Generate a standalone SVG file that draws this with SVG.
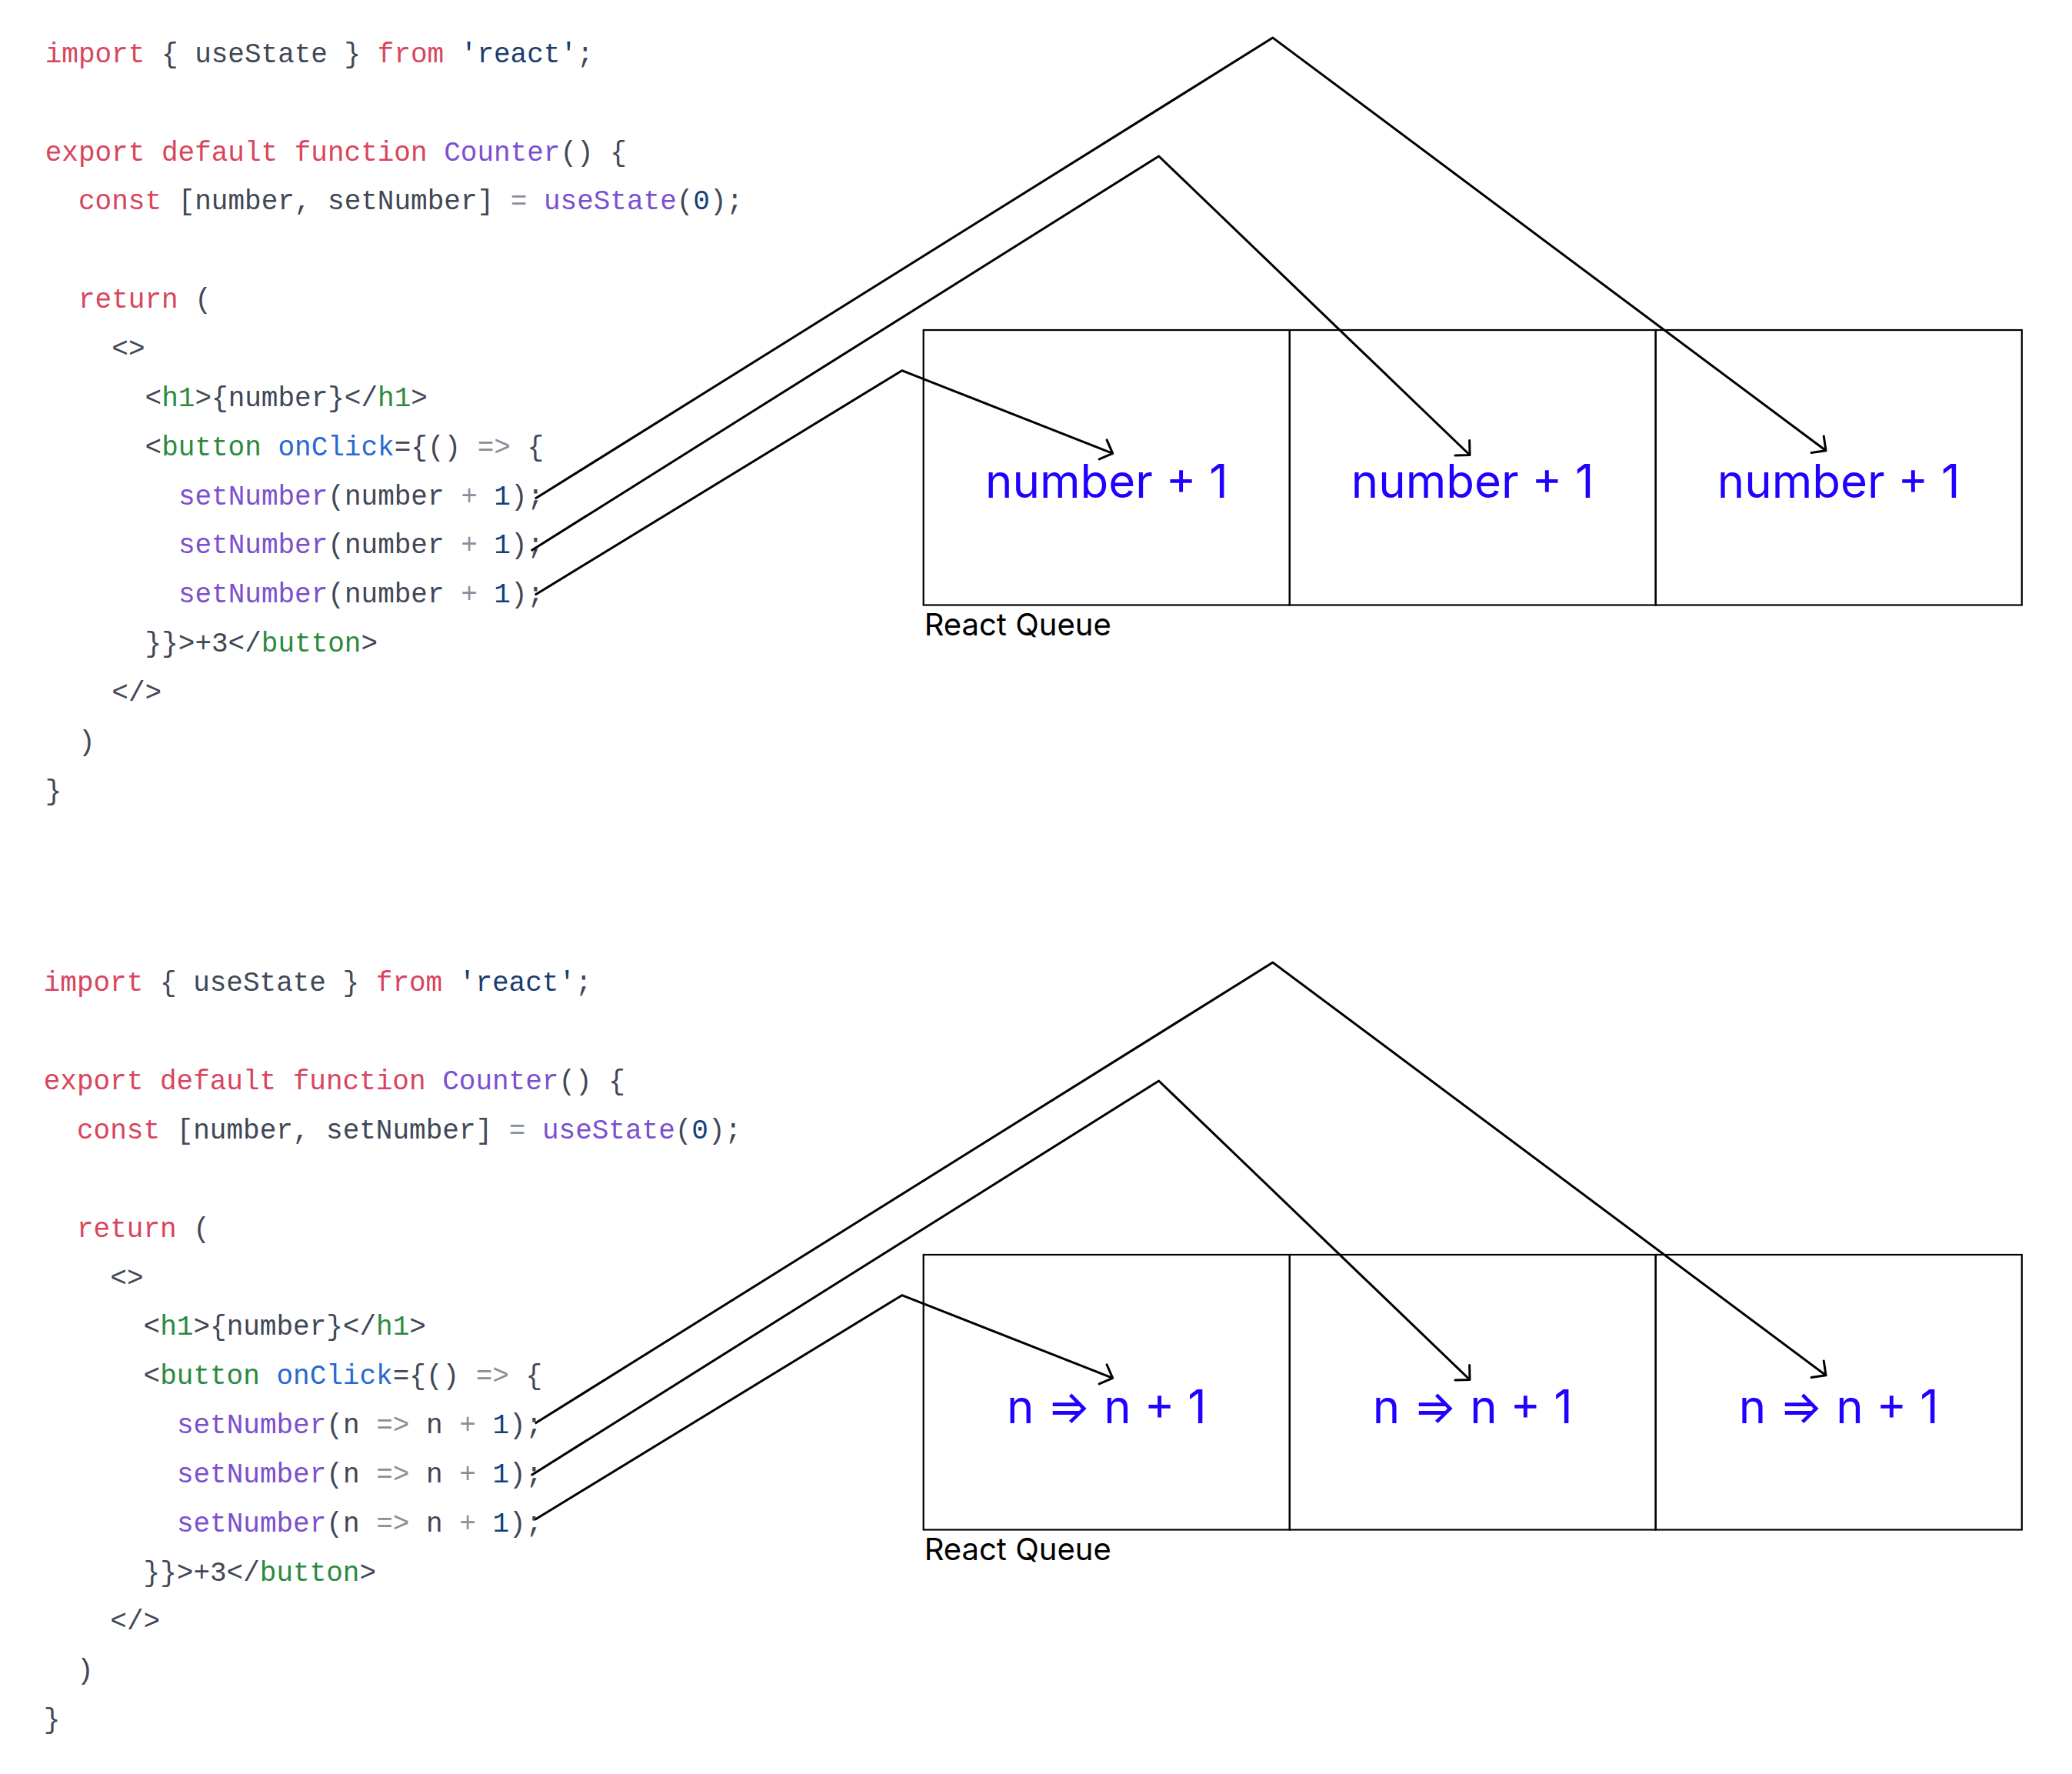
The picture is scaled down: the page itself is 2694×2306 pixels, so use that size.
<svg xmlns="http://www.w3.org/2000/svg" width="2694" height="2306" viewBox="0 0 2694 2306">
<style>
  .code { font-family: "Liberation Mono", "DejaVu Sans Mono", monospace; font-size: 36px; fill: #404756; }
  .kw { fill: #d8455c; }
  .fn { fill: #7c4fd0; }
  .str { fill: #1b3d6d; }
  .num { fill: #12417a; }
  .tag { fill: #2b8a3e; }
  .attr { fill: #2869d0; }
  .op { fill: #8a8f99; }
  .cell { fill: none; stroke: #000; stroke-width: 2.2; }
  .val { font-family: Inter, "Noto Sans", "Liberation Sans", sans-serif; font-size: 60px; fill: #2000ff; text-anchor: middle; }
  .label { font-family: Inter, "Noto Sans", "Liberation Sans", sans-serif; font-size: 40px; fill: #000; }
  .conn { fill: none; stroke: #000; stroke-width: 3; stroke-linejoin: round; marker-end: url(#arrow); }
</style>
<defs>
  <marker id="arrow" viewBox="0 0 30 30" refX="15" refY="15" markerWidth="30" markerHeight="30" markerUnits="userSpaceOnUse" orient="auto" overflow="visible">
    <path d="M1.5,1.5 L15,15 L1.5,28.5" fill="none" stroke="#000" stroke-width="3" stroke-linecap="round" stroke-linejoin="round"/>
  </marker>
</defs>
<rect width="2694" height="2306" fill="#fff"/>

<g id="code-top" class="code" transform="translate(58.7,0)">
  <text x="0" y="80.8"><tspan class="kw">import</tspan> { useState } <tspan class="kw">from</tspan> <tspan class="str">'react'</tspan>;</text>
  <text x="0" y="208.5"><tspan class="kw">export default function</tspan> <tspan class="fn">Counter</tspan>() {</text>
  <text x="43.3" y="272.4"><tspan class="kw">const</tspan> [number, setNumber] <tspan class="op">=</tspan> <tspan class="fn">useState</tspan>(<tspan class="num">0</tspan>);</text>
  <text x="43.3" y="400.1"><tspan class="kw">return</tspan> (</text>
  <text x="86.6" y="464">&lt;&gt;</text>
  <text x="129.9" y="527.8">&lt;<tspan class="tag">h1</tspan>&gt;{number}&lt;/<tspan class="tag">h1</tspan>&gt;</text>
  <text x="129.9" y="591.7">&lt;<tspan class="tag">button</tspan> <tspan class="attr">onClick</tspan>={() <tspan class="op">=&gt;</tspan> {</text>
  <text x="173.2" y="655.5"><tspan class="fn">setNumber</tspan>(number <tspan class="op">+</tspan> <tspan class="num">1</tspan>);</text>
  <text x="173.2" y="719.4"><tspan class="fn">setNumber</tspan>(number <tspan class="op">+</tspan> <tspan class="num">1</tspan>);</text>
  <text x="173.2" y="783.2"><tspan class="fn">setNumber</tspan>(number <tspan class="op">+</tspan> <tspan class="num">1</tspan>);</text>
  <text x="129.9" y="847.1">}}&gt;+3&lt;/<tspan class="tag">button</tspan>&gt;</text>
  <text x="86.6" y="910.9">&lt;/&gt;</text>
  <text x="43.3" y="974.8">)</text>
  <text x="0" y="1038.6">}</text>
</g>

<g id="code-bottom" class="code" transform="translate(56.7,1207.5)">
  <text x="0" y="80.8"><tspan class="kw">import</tspan> { useState } <tspan class="kw">from</tspan> <tspan class="str">'react'</tspan>;</text>
  <text x="0" y="208.5"><tspan class="kw">export default function</tspan> <tspan class="fn">Counter</tspan>() {</text>
  <text x="43.3" y="272.4"><tspan class="kw">const</tspan> [number, setNumber] <tspan class="op">=</tspan> <tspan class="fn">useState</tspan>(<tspan class="num">0</tspan>);</text>
  <text x="43.3" y="400.1"><tspan class="kw">return</tspan> (</text>
  <text x="86.6" y="464">&lt;&gt;</text>
  <text x="129.9" y="527.8">&lt;<tspan class="tag">h1</tspan>&gt;{number}&lt;/<tspan class="tag">h1</tspan>&gt;</text>
  <text x="129.9" y="591.7">&lt;<tspan class="tag">button</tspan> <tspan class="attr">onClick</tspan>={() <tspan class="op">=&gt;</tspan> {</text>
  <text x="173.2" y="655.5"><tspan class="fn">setNumber</tspan>(n <tspan class="op">=&gt;</tspan> n <tspan class="op">+</tspan> <tspan class="num">1</tspan>);</text>
  <text x="173.2" y="719.4"><tspan class="fn">setNumber</tspan>(n <tspan class="op">=&gt;</tspan> n <tspan class="op">+</tspan> <tspan class="num">1</tspan>);</text>
  <text x="173.2" y="783.2"><tspan class="fn">setNumber</tspan>(n <tspan class="op">=&gt;</tspan> n <tspan class="op">+</tspan> <tspan class="num">1</tspan>);</text>
  <text x="129.9" y="847.1">}}&gt;+3&lt;/<tspan class="tag">button</tspan>&gt;</text>
  <text x="86.6" y="910.9">&lt;/&gt;</text>
  <text x="43.3" y="974.8">)</text>
  <text x="0" y="1038.6">}</text>
</g>

<g id="queue-top">
  <g id="queue-top-cell-1"><rect class="cell" x="1200.7" y="429" width="476.1" height="357.5"/><text class="val" x="1438.8" y="647">number + 1</text></g>
  <g id="queue-top-cell-2"><rect class="cell" x="1676.8" y="429" width="475.9" height="357.5"/><text class="val" x="1914.7" y="647">number + 1</text></g>
  <g id="queue-top-cell-3"><rect class="cell" x="2152.7" y="429" width="476.1" height="357.5"/><text class="val" x="2390.7" y="647">number + 1</text></g>
  <text class="label" x="1201.7" y="825.7">React Queue</text>
</g>

<g id="queue-bottom">
  <g id="queue-bottom-cell-1"><rect class="cell" x="1200.7" y="1631" width="476.1" height="357.5"/><text class="val" x="1438.8" y="1849.5">n ⇒ n + 1</text></g>
  <g id="queue-bottom-cell-2"><rect class="cell" x="1676.8" y="1631" width="475.9" height="357.5"/><text class="val" x="1914.7" y="1849.5">n ⇒ n + 1</text></g>
  <g id="queue-bottom-cell-3"><rect class="cell" x="2152.7" y="1631" width="476.1" height="357.5"/><text class="val" x="2390.7" y="1849.5">n ⇒ n + 1</text></g>
  <text class="label" x="1201.7" y="2027.7">React Queue</text>
</g>

<g id="connectors">
  <polyline class="conn" points="695.7,648.3 1654.9,49.1 2374,585.8"/>
  <polyline class="conn" points="690.7,715.7 1506.7,203 1911,591.5"/>
  <polyline class="conn" points="695.7,773.3 1172.7,481.7 1446.7,589.3"/>
  <polyline class="conn" points="695.7,1850.3 1654.9,1251.1 2374,1787.8"/>
  <polyline class="conn" points="690.7,1917.7 1506.7,1405 1911,1793.5"/>
  <polyline class="conn" points="695.7,1975.3 1172.7,1683.7 1446.7,1791.3"/>
</g>
</svg>
